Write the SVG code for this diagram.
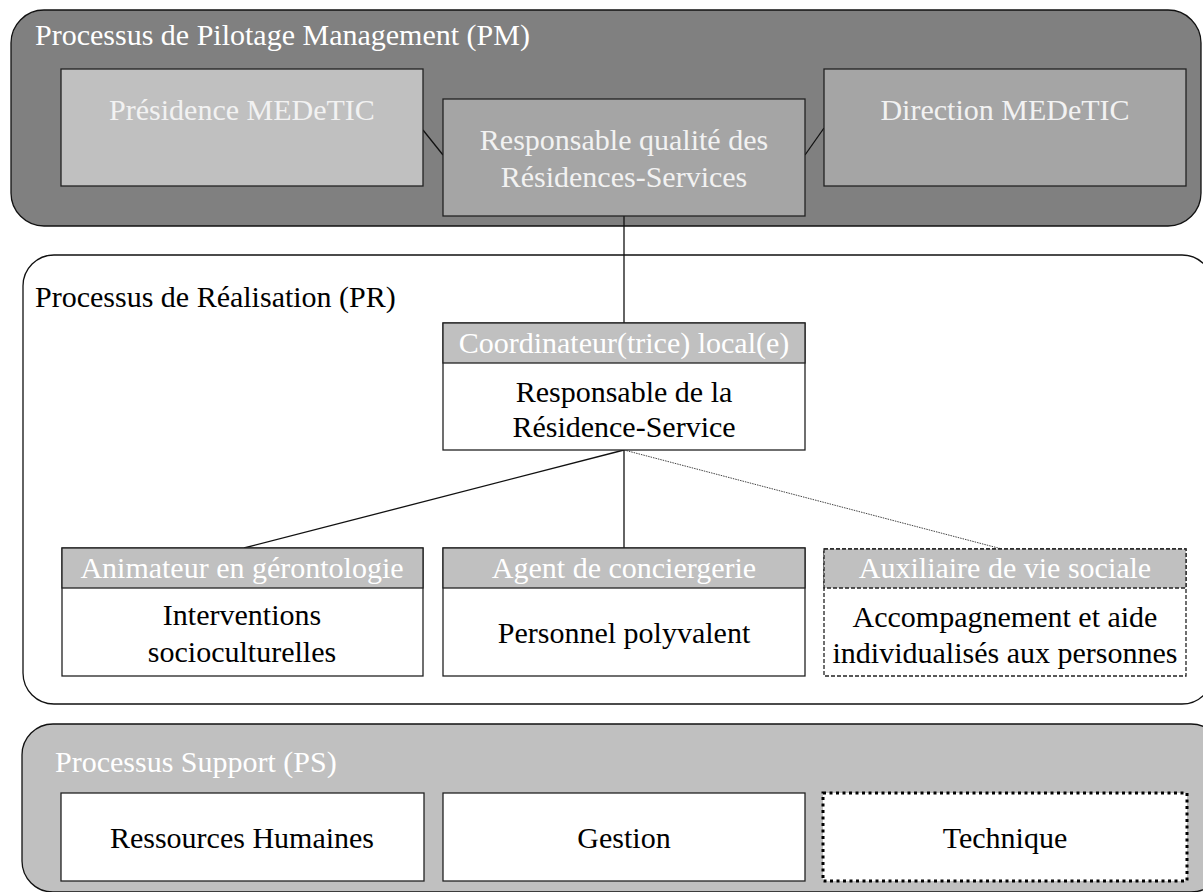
<svg xmlns="http://www.w3.org/2000/svg" width="1203" height="892" viewBox="0 0 1203 892">
<style>
text{font-family:"Liberation Serif","Times New Roman",serif;font-size:30px;text-anchor:middle}
.w{fill:#ffffff}
.wt{fill:#f2f2f2}
.k{fill:#000000}
.lt{text-anchor:start}
.box{stroke:#222;stroke-width:1.3}
.cont{stroke:#111;stroke-width:1.3}
.ln{stroke:#111;stroke-width:1.3;fill:none}
</style>
<rect width="1203" height="892" fill="#ffffff"/>
<g id="pm">
<rect class="cont" x="11" y="10" width="1190" height="216" rx="33" fill="#808080"/>
<text class="w lt" x="35" y="45">Processus de Pilotage Management (PM)</text>
</g>
<g id="pr">
<rect class="cont" x="23" y="255" width="1190" height="449" rx="31" fill="#ffffff"/>
<text class="k lt" x="35" y="307">Processus de Réalisation (PR)</text>
</g>
<g id="ps">
<rect class="cont" x="22" y="724" width="1200" height="168" rx="31" fill="#c0c0c0"/>
<text class="w lt" x="55" y="772">Processus Support (PS)</text>
</g>
<g id="connectors">
<line class="ln" x1="423" y1="130" x2="443" y2="155"/>
<line class="ln" x1="805" y1="155" x2="824" y2="128"/>
<line class="ln" x1="624" y1="216" x2="624" y2="323"/>
<line class="ln" x1="624" y1="450" x2="244" y2="548"/>
<line class="ln" x1="624" y1="450" x2="624" y2="548"/>
<line x1="624" y1="450" x2="1002" y2="549" stroke="#444" stroke-width="1" stroke-dasharray="1.5 1"/>
</g>
<g id="presidence">
<rect class="box" x="61" y="69" width="362" height="117" fill="#c0c0c0"/>
<text class="wt" x="242" y="120">Présidence MEDeTIC</text>
</g>
<g id="responsable-qualite">
<rect class="box" x="443" y="99" width="362" height="117" fill="#a5a5a5"/>
<text class="wt" x="624" y="150">Responsable qualité des</text>
<text class="wt" x="624" y="187">Résidences-Services</text>
</g>
<g id="direction">
<rect class="box" x="824" y="69" width="362" height="117" fill="#a5a5a5"/>
<text class="wt" x="1005" y="120">Direction MEDeTIC</text>
</g>
<g id="coordinateur">
<rect class="box" x="443" y="323" width="362" height="127" fill="#ffffff"/>
<rect class="box" x="443" y="323" width="362" height="40" fill="#c0c0c0"/>
<text class="w" x="624" y="353">Coordinateur(trice) local(e)</text>
<text class="k" x="624" y="402">Responsable de la</text>
<text class="k" x="624" y="437">Résidence-Service</text>
</g>
<g id="animateur">
<rect class="box" x="62" y="548" width="361" height="128" fill="#ffffff"/>
<rect class="box" x="62" y="548" width="361" height="40" fill="#c0c0c0"/>
<text class="w" x="242" y="578">Animateur en gérontologie</text>
<text class="k" x="242" y="625">Interventions</text>
<text class="k" x="242" y="662">socioculturelles</text>
</g>
<g id="agent">
<rect class="box" x="443" y="548" width="362" height="128" fill="#ffffff"/>
<rect class="box" x="443" y="548" width="362" height="40" fill="#c0c0c0"/>
<text class="w" x="624" y="578">Agent de conciergerie</text>
<text class="k" x="624" y="643">Personnel polyvalent</text>
</g>
<g id="auxiliaire">
<rect x="824" y="549" width="362" height="127" fill="#ffffff" stroke="#222" stroke-width="1.3" stroke-dasharray="4 2"/>
<rect x="824" y="549" width="362" height="39" fill="#c0c0c0" stroke="#222" stroke-width="1.3" stroke-dasharray="4 2"/>
<text class="w" x="1005" y="578">Auxiliaire de vie sociale</text>
<text class="k" x="1005" y="627">Accompagnement et aide</text>
<text class="k" x="1005" y="663">individualisés aux personnes</text>
</g>
<g id="rh">
<rect class="box" x="61" y="793" width="363" height="88" fill="#ffffff"/>
<text class="k" x="242" y="848">Ressources Humaines</text>
</g>
<g id="gestion">
<rect class="box" x="443" y="793" width="362" height="88" fill="#ffffff"/>
<text class="k" x="624" y="848">Gestion</text>
</g>
<g id="technique">
<rect x="823" y="793" width="364" height="88" fill="#ffffff" stroke="#000" stroke-width="3" stroke-dasharray="3 3.5"/>
<text class="k" x="1005" y="848">Technique</text>
</g>
</svg>
